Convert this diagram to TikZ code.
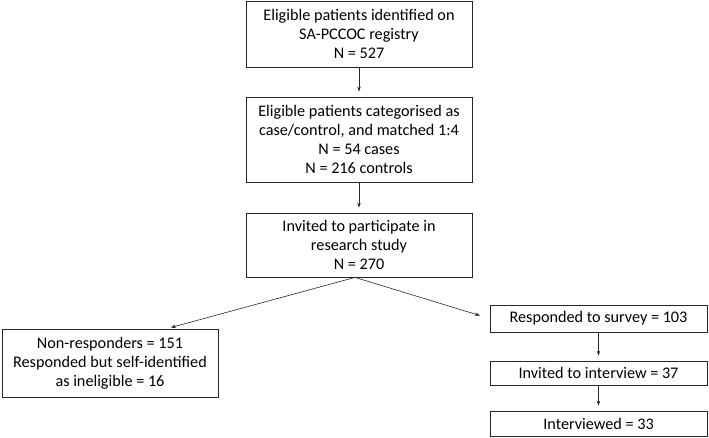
\documentclass[tikz,border=0pt]{standalone}
\usepackage{fontspec}
\setmainfont{Carlito}
\usetikzlibrary{arrows.meta}
\tikzset{
  box/.style={draw=black!85, line width=0.8pt, align=center, inner sep=0pt,
    font=\fontsize{16.2}{19}\selectfont, text=black},
  arr/.style={draw=black!85, line width=0.6pt, -{Stealth[length=5pt,width=3.5pt]}, shorten >=5pt}
}
\begin{document}
\begin{tikzpicture}[x=1pt,y=-1pt]
\useasboundingbox (0,0) rectangle (709,438);
\node[box, minimum width=226pt, minimum height=66pt] (b1) at (359,34)
  {Eligible patients identified on\\SA-PCCOC registry\\N = 527};
\node[box, minimum width=226pt, minimum height=85pt] (b2) at (359,139.5)
  {Eligible patients categorised as\\case/control, and matched 1:4\\N = 54 cases\\N = 216 controls};
\node[box, minimum width=226pt, minimum height=64pt] (b3) at (359,245)
  {Invited to participate in\\research study\\N = 270};
\node[box, minimum width=216pt, minimum height=68pt] (nr) at (110,363)
  {Non-responders = 151\\Responded but self-identified\\as ineligible = 16};
\node[box, minimum width=217pt, minimum height=27pt] (r1) at (598.5,318.5)
  {Responded to survey = 103};
\node[box, minimum width=217pt, minimum height=24pt] (r2) at (598.5,373)
  {Invited to interview = 37};
\node[box, minimum width=217pt, minimum height=25pt] (r3) at (598.5,423.5)
  {Interviewed = 33};
\coordinate (nrt) at ([xshift=57pt]nr.north);
\coordinate (b3s) at ([xshift=-4pt]b3.south);
\draw[arr] (b1) -- (b2);
\draw[arr] (b2) -- (b3);
\draw[arr, shorten >=4pt] (b3s) -- (nrt);
\draw[arr, shorten >=10pt] (b3s) -- (r1.west);
\draw[arr] (r1) -- (r2);
\draw[arr] (r2) -- (r3);
\end{tikzpicture}
\end{document}
